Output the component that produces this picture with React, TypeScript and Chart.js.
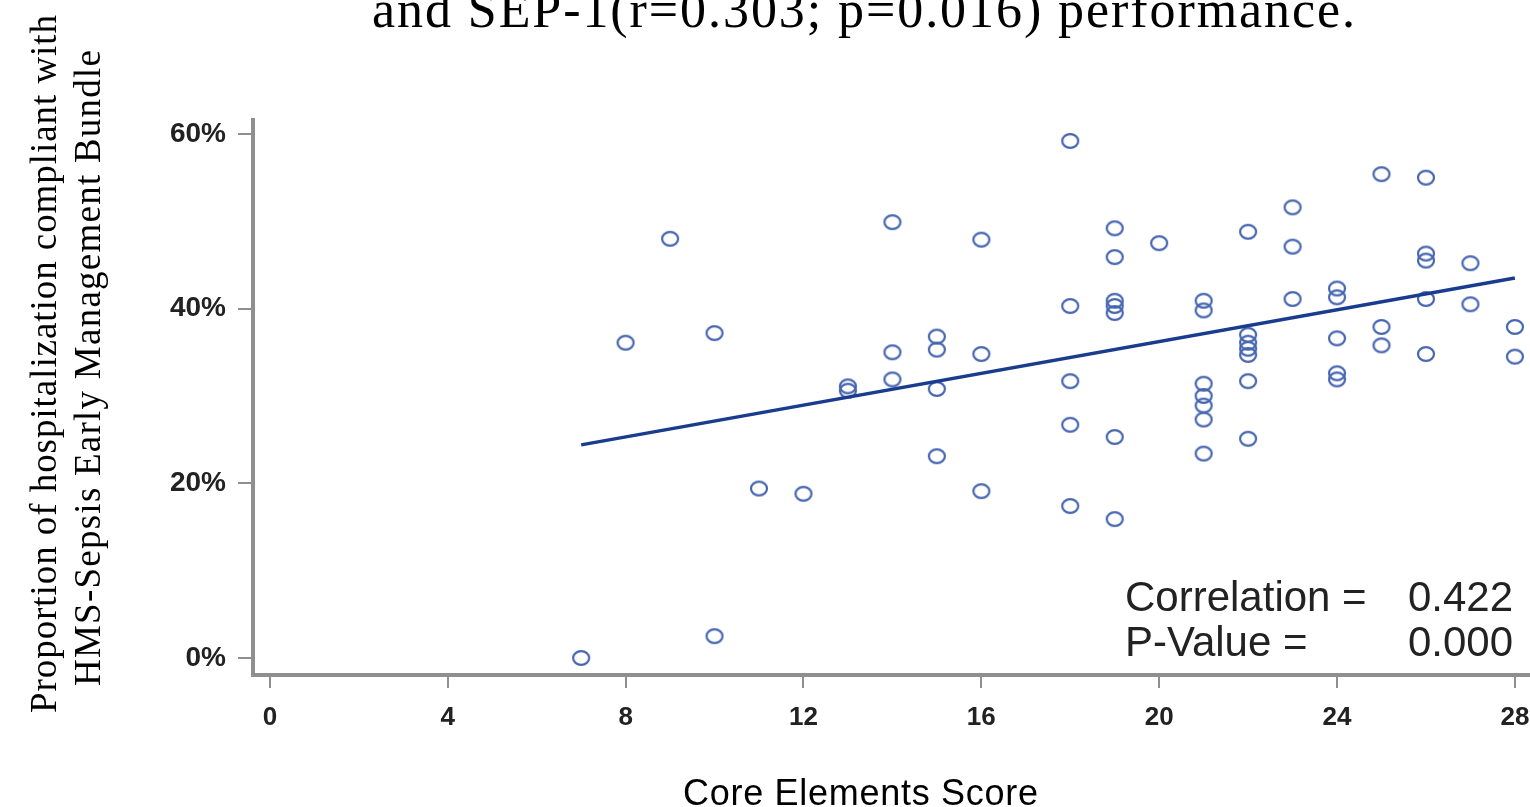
import React, { useEffect, useRef } from "react";
import { Chart, registerables } from "chart.js";

Chart.register(...registerables);

// ---- data ----
const coreScores = [
  7, 8, 9, 10, 10, 11, 12, 13, 13, 14, 14, 14, 15, 15, 15, 15, 16, 16, 16,
  18, 18, 18, 18, 18, 19, 19, 19, 19, 19, 19, 19, 20, 21, 21, 21, 21, 21, 21, 21,
  22, 22, 22, 22, 22, 22, 22, 23, 23, 23, 24, 24, 24, 24, 24, 25, 25, 25,
  26, 26, 26, 26, 26, 27, 27, 28, 28,
];
const compliancePct = [
  0.0, 36.1, 48.0, 37.2, 2.5, 19.4, 18.8, 31.1, 30.6, 49.9, 35.0, 31.9, 36.8, 35.3, 30.8, 23.1,
  47.9, 34.8, 19.1, 59.2, 40.3, 31.7, 26.7, 17.4, 49.2, 45.9, 40.9, 40.3, 39.5, 25.3, 15.9,
  47.5, 40.9, 39.8, 31.4, 30.0, 28.9, 27.3, 23.4, 48.8, 37.0, 36.1, 35.4, 34.7, 31.7, 25.1,
  51.6, 47.1, 41.1, 42.3, 41.3, 36.6, 32.6, 31.9, 55.4, 37.9, 35.8, 55.0, 46.3, 45.5, 41.1, 34.8,
  45.2, 40.5, 37.9, 34.5,
];
const fitX = [7, 28];
const fitY = [24.4, 43.5];
const xTicks = [0, 4, 8, 12, 16, 20, 24, 28];
const yTicks = [0, 20, 40, 60];

const titleText = "and SEP-1(r=0.303; p=0.016) performance.";
const yTitleLines = [
  "Proportion of hospitalization compliant with",
  "HMS-Sepsis Early Management Bundle",
];
const xTitleText = "Core Elements Score";
const statLabels = ["Correlation =", "P-Value ="];
const statValues = ["0.422", "0.000"];

function makeMarker(): HTMLCanvasElement {
  const c = document.createElement("canvas");
  c.width = 22;
  c.height = 20;
  const g = c.getContext("2d")!;
  g.strokeStyle = "#4766b0";
  g.lineWidth = 2.2;
  g.beginPath();
  g.ellipse(11, 10, 8, 6.8, 0, 0, Math.PI * 2);
  g.stroke();
  return c;
}

function drawFitted(ctx: any, text: string, x0: number, x1: number, y: number) {
  ctx.save();
  if ("letterSpacing" in ctx) ctx.letterSpacing = "0px";
  const w = ctx.measureText(text).width;
  const target = x1 - x0;
  if ("letterSpacing" in ctx && text.length > 1) {
    const extra = (target - w) / (text.length - 1);
    ctx.letterSpacing = extra + "px";
  }
  ctx.textAlign = "left";
  ctx.fillText(text, x0, y);
  ctx.restore();
}

const textPlugin = {
  id: "extraText",
  afterDraw(chart: any) {
    const ctx = chart.ctx;
    ctx.save();
    ctx.textBaseline = "alphabetic";
    // clipped title at top
    ctx.fillStyle = "#000";
    ctx.font = '52px "Liberation Serif"';
    drawFitted(ctx, titleText, 372, 1355, 27);

    // y axis title (rotated, two lines)
    ctx.font = '37px "Liberation Serif"';
    ctx.save();
    ctx.translate(56, 713);
    ctx.rotate(-Math.PI / 2);
    drawFitted(ctx, yTitleLines[0], 0, 698, 0);
    ctx.restore();
    ctx.save();
    ctx.translate(100, 686);
    ctx.rotate(-Math.PI / 2);
    drawFitted(ctx, yTitleLines[1], 0, 636, 0);
    ctx.restore();

    // x axis title
    ctx.font = '36px "Liberation Sans"';
    drawFitted(ctx, xTitleText, 683, 1038, 805);

    // statistics annotation
    ctx.fillStyle = "#222";
    ctx.font = '42px "Liberation Sans"';
    const base = [611, 656];
    statLabels.forEach((s, i) => {
      ctx.textAlign = "left";
      ctx.fillText(s, 1125, base[i]);
      ctx.textAlign = "right";
      ctx.fillText(statValues[i], 1513, base[i]);
    });
    ctx.restore();
  },
};

export default function App() {
  const ref = useRef<HTMLCanvasElement | null>(null);
  useEffect(() => {
    if (!ref.current) return;
    const points = coreScores.map((x, i) => ({ x, y: compliancePct[i] }));
    const fit = fitX.map((x, i) => ({ x, y: fitY[i] }));
    const marker = makeMarker();
    const chart = new Chart(ref.current, {
      type: "scatter",
      data: {
        datasets: [
          {
            type: "line",
            data: fit,
            borderColor: "#1a3c8f",
            borderWidth: 3.5,
            pointRadius: 0,
            fill: false,
            order: 0,
          } as any,
          {
            data: points,
            pointStyle: marker as any,
            pointRadius: 9,
            order: 1,
          },
        ],
      },
      options: {
        responsive: false,
        animation: false,
        layout: { autoPadding: false, padding: { top: 120, left: 0, right: 0, bottom: 0 } },
        plugins: {
          legend: { display: false },
          tooltip: { enabled: false },
          title: { display: false },
        },
        scales: {
          x: {
            type: "linear",
            min: -0.38,
            max: 28.34,
            afterFit: (s: any) => {
              s.height = 132;
              s.paddingLeft = 0;
              s.paddingRight = 0;
            },
            afterBuildTicks: (s: any) => {
              s.ticks = xTicks.map((v) => ({ value: v }));
            },
            border: { display: true, color: "#8f8f8f", width: 4 },
            grid: {
              display: true,
              drawOnChartArea: false,
              drawTicks: true,
              tickLength: 13,
              color: "#8f8f8f",
              lineWidth: 2,
            },
            ticks: {
              color: "#222",
              font: { family: '"Liberation Sans"', size: 26, weight: "bold" },
              padding: 14,
              maxRotation: 0,
              autoSkip: false,
            },
          },
          y: {
            type: "linear",
            min: -1.95,
            max: 61.6,
            afterFit: (s: any) => {
              s.width = 253;
            },
            afterBuildTicks: (s: any) => {
              s.ticks = yTicks.map((v) => ({ value: v }));
            },
            border: { display: true, color: "#8f8f8f", width: 4 },
            grid: {
              display: true,
              drawOnChartArea: false,
              drawTicks: true,
              tickLength: 15,
              color: "#8f8f8f",
              lineWidth: 2,
            },
            ticks: {
              color: "#222",
              font: { family: '"Liberation Sans"', size: 28, weight: "bold" },
              padding: 12,
              autoSkip: false,
              callback: (v: any) => v + "%",
            },
          },
        },
      },
      plugins: [textPlugin],
    });
    return () => chart.destroy();
  }, []);
  return (
    <div style={{ position: "absolute", left: 0, top: 0, width: 1530, height: 807, background: "#fff" }}>
      <canvas ref={ref} width={1530} height={807} />
    </div>
  );
}
